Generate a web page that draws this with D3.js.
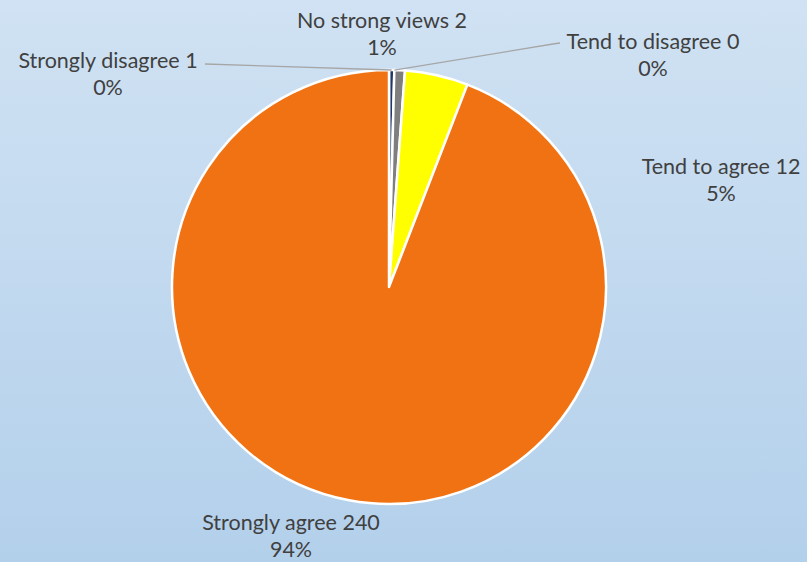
<!DOCTYPE html>
<html>
<head>
<meta charset="utf-8">
<script src="https://cdn.jsdelivr.net/npm/d3@7"></script>
<style>
  html, body { margin: 0; padding: 0; }
  svg { display: block; }
  text { font-family: Lato, "Open Sans", sans-serif; fill: #404040; }
</style>
</head>
<body>
<svg id="chart" width="807" height="562"></svg>
<script>
// Survey responses, in clockwise order from 12 o'clock
const categories = ["Strongly disagree", "Tend to disagree", "No strong views", "Tend to agree", "Strongly agree"];
const counts = [1, 0, 2, 12, 240];
const colors = ["#1f3864", "#2e75b6", "#7f7f7f", "#ffff00", "#f07212"];

const W = 807, H = 562;
const cx = 389, cy = 287, R = 217;

const svg = d3.select("#chart");

// background gradient
const defs = svg.append("defs");
const grad = defs.append("linearGradient").attr("id", "bg").attr("x1", 0).attr("y1", 0).attr("x2", 0).attr("y2", 1);
grad.append("stop").attr("offset", "0%").attr("stop-color", "#d0e2f3");
grad.append("stop").attr("offset", "100%").attr("stop-color", "#b3d0eb");
svg.append("rect").attr("width", W).attr("height", H).attr("fill", "url(#bg)");

const data = categories.map((c, i) => ({ name: c, value: counts[i], color: colors[i] }));
const total = d3.sum(counts);

const pie = d3.pie().value(d => d.value).sort(null);
const arcs = pie(data);
const arc = d3.arc().innerRadius(0).outerRadius(R);

const g = svg.append("g").attr("transform", `translate(${cx},${cy})`);
g.selectAll("path.slice")
  .data(arcs.filter(a => a.data.value > 0))
  .join("path")
  .attr("class", "slice")
  .attr("d", arc)
  .attr("fill", d => d.data.color)
  .attr("stroke", "#ffffff")
  .attr("stroke-width", 2.5)
  .attr("stroke-linejoin", "round");

// label placement (centre of first line) and optional leader line end
const labelLayout = {
  "Strongly disagree": { x: 108, y: 60, leader: [[205, 64]] },
  "Tend to disagree":  { x: 653, y: 41, leader: [[560, 43], [553, 44]] },
  "No strong views":   { x: 382, y: 20 },
  "Tend to agree":     { x: 721, y: 166 },
  "Strongly agree":    { x: 291, y: 522 }
};

const pct = v => Math.round(v / total * 100) + "%";

arcs.forEach(a => {
  const L = labelLayout[a.data.name];
  if (L.leader) {
    const mid = (a.startAngle + a.endAngle) / 2;
    const px = cx + Math.sin(mid) * R;
    const py = cy - Math.cos(mid) * R;
    const pts = [[px, py]].concat(L.leader.slice().reverse());
    svg.append("path")
      .attr("d", d3.line()(pts))
      .attr("fill", "none")
      .attr("stroke", "#a6a6a6")
      .attr("stroke-width", 1.3);
  }
  const t = svg.append("text")
    .attr("text-anchor", "middle")
    .attr("font-size", 21.5);
  t.append("tspan").attr("x", L.x).attr("y", L.y).attr("dy", "0.35em")
    .text(`${a.data.name} ${a.data.value}`);
  t.append("tspan").attr("x", L.x).attr("y", L.y + 27).attr("dy", "0.35em")
    .text(pct(a.data.value));
});
</script>
</body>
</html>
